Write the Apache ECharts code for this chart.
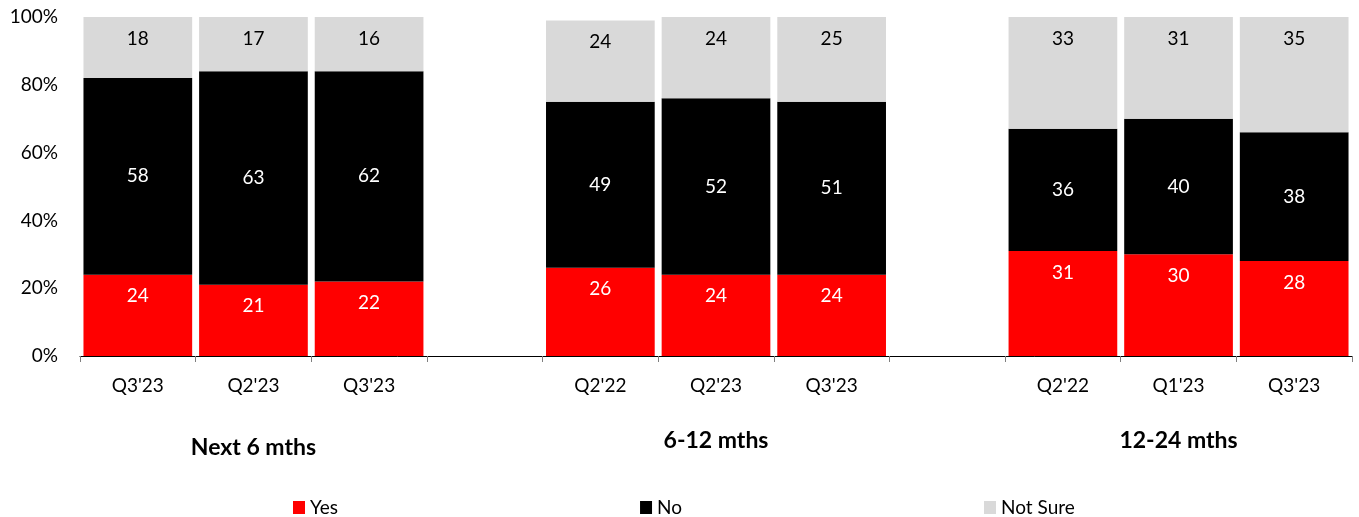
<!DOCTYPE html>
<html>
<head>
<meta charset="utf-8">
<script src="https://cdn.jsdelivr.net/npm/echarts@6/dist/echarts.min.js"></script>
<style>
  html, body { margin: 0; padding: 0; background: #fff; }
  #chart { width: 1359px; height: 517px; }
</style>
</head>
<body>
<div id="chart"></div>
<script>
// Survey periods, with an empty slot separating each horizon group
const periods = ["Q3'23", "Q2'23", "Q3'23", "", "Q2'22", "Q2'23", "Q3'23", "", "Q2'22", "Q1'23", "Q3'23"];
// Horizon group names, shown under the middle bar of each group
const groupNames = ["Next 6 mths", "6-12 mths", "12-24 mths"];
const groupCenters = [1, 5, 9];

// Share of respondents (%)
const yesValues     = [24, 21, 22, null, 26, 24, 24, null, 31, 30, 28];
const noValues      = [58, 63, 62, null, 49, 52, 51, null, 36, 40, 38];
const notSureValues = [18, 17, 16, null, 24, 24, 25, null, 33, 31, 35];

const yTicks = [0, 20, 40, 60, 80, 100];

const FONT = 'Lato';

const chart = echarts.init(document.getElementById('chart'), null, { renderer: 'canvas' });

function labelFor(color, pos, dist) {
  return {
    show: true,
    position: pos,
    distance: dist,
    color: color,
    fontFamily: FONT,
    fontSize: 19,
    formatter: p => (p.value == null ? '' : String(p.value))
  };
}

chart.setOption({
  animation: false,
  textStyle: { fontFamily: FONT },
  grid: { left: 80, right: 7, top: 17, bottom: 161, containLabel: false },
  legend: {
    left: 293,
    top: 498,
    padding: 0,
    itemWidth: 12,
    itemHeight: 13,
    itemGap: 302,
    icon: 'rect',
    textStyle: { fontFamily: FONT, fontSize: 19, color: '#000' },
    data: ['Yes', 'No', 'Not Sure']
  },
  xAxis: {
    type: 'category',
    data: periods,
    axisLine: { lineStyle: { color: '#000', width: 1 } },
    axisTick: { show: true, interval: 0, length: 6, lineStyle: { color: '#7f7f7f' } },
    axisLabel: {
      interval: 0,
      margin: 18,
      color: '#000',
      fontFamily: FONT,
      fontSize: 19,
      lineHeight: 23,
      formatter: (val, idx) => {
        const g = groupCenters.indexOf(idx);
        if (g < 0) return val;
        return val + '\n{' + (g === 0 ? 'g1' : 'g') + '|' + groupNames[g] + '}';
      },
      rich: {
        g:  { fontFamily: FONT, fontSize: 23, fontWeight: 'bold', color: '#000', lineHeight: 87 },
        g1: { fontFamily: FONT, fontSize: 23, fontWeight: 'bold', color: '#000', lineHeight: 101 }
      }
    }
  },
  yAxis: {
    type: 'value',
    min: 0,
    max: 100,
    interval: 20,
    axisLine: { show: false },
    axisTick: { show: false },
    splitLine: { show: false },
    axisLabel: {
      margin: 22,
      color: '#000',
      fontFamily: FONT,
      fontSize: 19,
      formatter: v => (yTicks.includes(v) ? v + '%' : '')
    }
  },
  series: [
    {
      name: 'Yes', type: 'bar', stack: 'share', barCategoryGap: '6%',
      itemStyle: { color: '#ff0000' },
      label: labelFor('#fff', 'insideTop', 12),
      data: yesValues
    },
    {
      name: 'No', type: 'bar', stack: 'share', barCategoryGap: '6%',
      itemStyle: { color: '#000000' },
      label: labelFor('#fff', 'inside', 0),
      data: noValues
    },
    {
      name: 'Not Sure', type: 'bar', stack: 'share', barCategoryGap: '6%',
      itemStyle: { color: '#d9d9d9' },
      label: labelFor('#000', 'insideTop', 12),
      data: notSureValues
    }
  ]
});
</script>
</body>
</html>
